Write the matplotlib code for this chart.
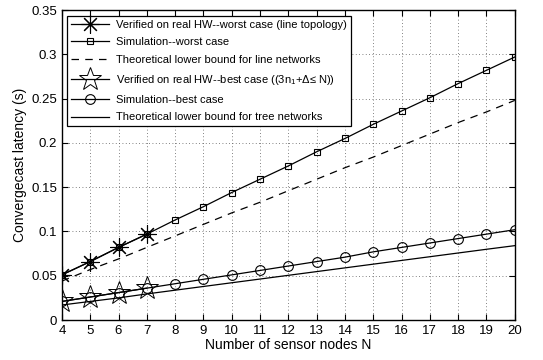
import matplotlib
matplotlib.use("Agg")
import matplotlib.pyplot as plt

plt.rcParams['font.family'] = ['Liberation Sans', 'DejaVu Sans']
plt.rcParams['mathtext.fontset'] = 'custom'
plt.rcParams['mathtext.rm'] = 'Liberation Sans'
plt.rcParams['mathtext.it'] = 'Liberation Sans'

nodes = list(range(4, 21))
hw_nodes = [4, 5, 6, 7]

sim_worst = [0.051, 0.066, 0.082, 0.097, 0.113, 0.128, 0.144, 0.159, 0.174,
             0.190, 0.205, 0.221, 0.236, 0.251, 0.267, 0.282, 0.297]
hw_worst = [0.051, 0.066, 0.082, 0.097]
bound_line = [0.044, 0.057, 0.069, 0.082, 0.095, 0.108, 0.121, 0.133, 0.146,
              0.159, 0.172, 0.184, 0.197, 0.210, 0.223, 0.235, 0.248]
sim_best = [0.021, 0.026, 0.031, 0.036, 0.041, 0.046, 0.051, 0.056, 0.061,
            0.066, 0.071, 0.077, 0.082, 0.087, 0.092, 0.097, 0.102]
hw_best = [0.021, 0.026, 0.031, 0.036]
bound_tree = [0.017, 0.021, 0.025, 0.0295, 0.0337, 0.0379, 0.0421, 0.0463, 0.0505,
              0.0547, 0.0589, 0.0631, 0.0673, 0.0715, 0.0757, 0.0799, 0.084]

labels = [
    "Verified on real HW--worst case (line topology)",
    "Simulation--worst case",
    "Theoretical lower bound for line networks",
    "Verified on real HW--best case ((3n$_1$+\u0394\u2264 N))",
    "Simulation--best case",
    "Theoretical lower bound for tree networks",
]


def main():
    fig = plt.figure(figsize=(5.43, 3.6), dpi=100)
    ax = fig.add_axes([0.114, 0.111, 0.834, 0.861])

    ax.plot(hw_nodes, hw_worst, 'k-', marker=(8, 2, 0), markersize=13,
            markeredgewidth=0.8, lw=0.9, label=labels[0])
    ax.plot(nodes, sim_worst, 'k-', marker='s', markersize=5, markerfacecolor='none',
            markeredgewidth=0.8, lw=0.9, label=labels[1])
    ax.plot(nodes, bound_line, 'k--', lw=0.9, dashes=(6, 5), label=labels[2])
    ax.plot(hw_nodes, hw_best, 'k-', marker='*', markersize=17, markerfacecolor='none',
            markeredgewidth=0.7, lw=0.9, label=labels[3])
    ax.plot(nodes, sim_best, 'k-', marker='o', markersize=7, markerfacecolor='none',
            markeredgewidth=0.8, lw=0.9, label=labels[4])
    ax.plot(nodes, bound_tree, 'k-', lw=0.9, label=labels[5])

    ax.set_xlim(4, 20)
    ax.set_ylim(0, 0.35)
    ax.set_xticks(nodes)
    ax.set_yticks([0, 0.05, 0.1, 0.15, 0.2, 0.25, 0.3, 0.35])
    ax.set_yticklabels(["0", "0.05", "0.1", "0.15", "0.2", "0.25", "0.3", "0.35"])
    ax.tick_params(direction='in', labelsize=9.5, top=True, right=True, length=4)
    ax.grid(True, linestyle=(0, (1, 3)), color='0.35', lw=0.6)
    for s in ax.spines.values():
        s.set_linewidth(1.0)

    ax.set_xlabel("Number of sensor nodes N", fontsize=10, labelpad=1)
    ax.set_ylabel("Convergecast latency (s)", fontsize=10, labelpad=3)

    leg = ax.legend(loc='upper left', fontsize=8, fancybox=False, framealpha=1,
                    edgecolor='k', handlelength=3.4, borderaxespad=0.5,
                    labelspacing=0.7, borderpad=0.35, handletextpad=0.6)
    leg.get_frame().set_linewidth(0.9)

    fig.savefig("out.png", dpi=100)


if __name__ == '__main__':
    main()
